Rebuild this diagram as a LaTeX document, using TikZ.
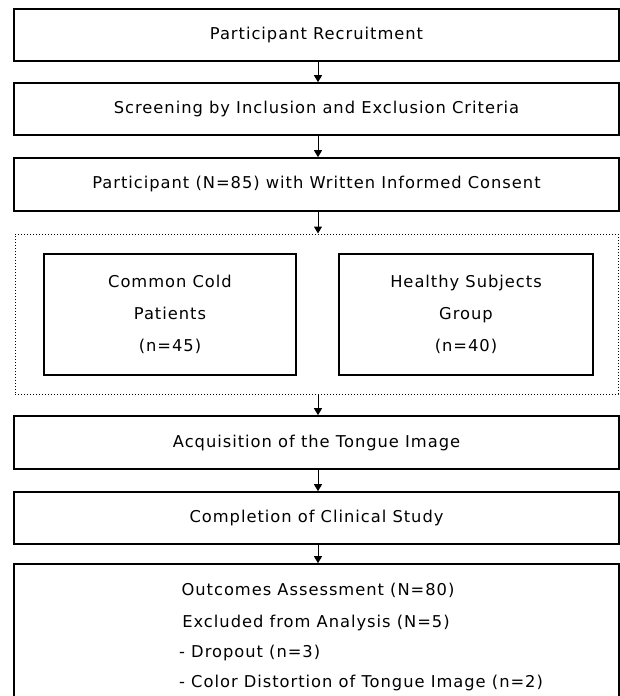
\documentclass[tikz,border=0pt]{standalone}
\usepackage{fontspec}
\setmainfont[LetterSpace=6]{DejaVu Sans}
\usetikzlibrary{arrows.meta}
\begin{document}
\begin{tikzpicture}[x=1pt,y=-1pt,
  font=\fontsize{16.3}{18}\selectfont,
  box/.style={draw=black,line width=1.6pt,minimum width=605pt,minimum height=52pt,inner sep=0pt,anchor=center,fill=white},
  inbox/.style={draw=black,line width=1.6pt,minimum height=121pt,inner sep=0pt,align=center,font=\fontsize{16.3}{32}\selectfont},
  grp/.style={draw=black,line width=1pt,dotted,minimum width=603pt,minimum height=160pt,inner sep=0pt},
  arr/.style={-{Triangle[width=8pt,length=7pt]},line width=1pt},
  ln/.style={anchor=base west,inner sep=0pt},
  lc/.style={anchor=base,inner sep=0pt}]
\useasboundingbox (0,0) rectangle (620,696);
\node[box] (b1) at (316.5,35) {Participant Recruitment};
\node[box] (b2) at (316.5,109) {Screening by Inclusion and Exclusion Criteria};
\node[box,minimum height=53pt] (b3) at (316.5,184.5) {Participant (N=85) with Written Informed Consent};
\node[grp] (g) at (316.5,314) {};
\node[inbox,minimum width=252pt] (c1) at (170,314.5) {Common Cold\\Patients\\(n=45)};
\node[inbox,minimum width=254pt] (c2) at (466,314.5) {Healthy Subjects\\Group\\(n=40)};
\node[box,minimum height=53pt] (b4) at (316.5,442.5) {Acquisition of the Tongue Image};
\node[box] (b5) at (316.5,518) {Completion of Clinical Study};
\node[box,minimum height=140pt] (b6) at (316.5,634) {};
\node[lc] (t1) at (318,595) {Outcomes Assessment (N=80)};
\node[lc] (t2) at (316,627) {Excluded from Analysis (N=5)};
\node[ln] (t3) at (179,657) {- Dropout (n=3)};
\node[ln] (t4) at (179,687) {- Color Distortion of Tongue Image (n=2)};
\draw[arr] (b1.south -| 318,0) -- (b2.north -| 318,0);
\draw[arr] (b2.south -| 318,0) -- (b3.north -| 318,0);
\draw[arr] (b3.south -| 318,0) -- (g.north -| 318,0);
\draw[arr] (g.south -| 318,0) -- (b4.north -| 318,0);
\draw[arr] (b4.south -| 318,0) -- (b5.north -| 318,0);
\draw[arr] (b5.south -| 318,0) -- (b6.north -| 318,0);
\end{tikzpicture}
\end{document}
